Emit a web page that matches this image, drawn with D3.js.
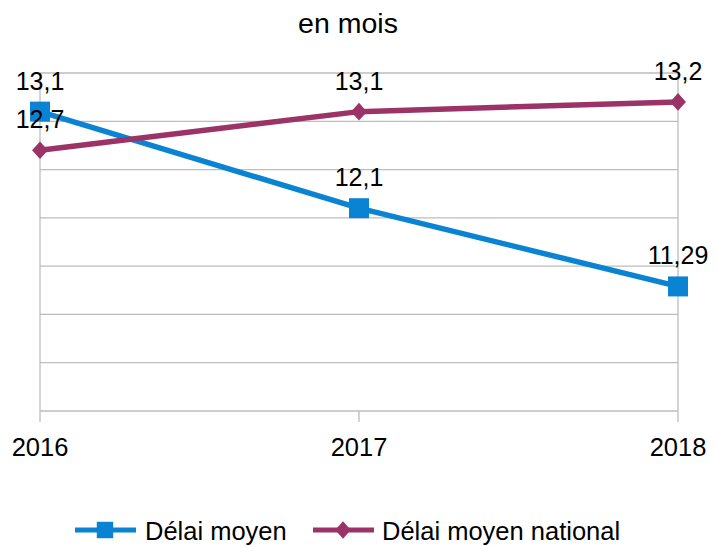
<!DOCTYPE html>
<html>
<head>
<meta charset="utf-8">
<script src="https://cdn.jsdelivr.net/npm/d3@7"></script>
<style>
  body { margin: 0; background: #fff; }
  text { font-family: "Liberation Sans", Arial, sans-serif; fill: #000; }
</style>
</head>
<body>
<script>
// data
let years = ["2016", "2017", "2018"];
let delaiMoyen = [13.1, 12.1, 11.29];
let delaiNational = [12.7, 13.1, 13.2];
let seriesNames = ["Délai moyen", "Délai moyen national"];
let seriesColors = ["#0a84d2", "#9b3366"];
let gridTicks = [10, 10.5, 11, 11.5, 12, 12.5, 13, 13.5];

let width = 716, height = 547;
let margin = {left: 40, right: 38, top: 73, bottom: 136};

let svg = d3.select("body").append("svg")
  .attr("width", width)
  .attr("height", height);

let x = d3.scalePoint()
  .domain(years)
  .range([margin.left, width - margin.right]);

let y = d3.scaleLinear()
  .domain([10, 13.5])
  .range([height - margin.bottom, margin.top]);

// title
svg.append("text")
  .attr("x", 348)
  .attr("y", 33)
  .attr("text-anchor", "middle")
  .style("font-size", "28.5px")
  .text("en mois");

// horizontal gridlines
svg.append("g").selectAll("line")
  .data(gridTicks)
  .enter().append("line")
  .attr("x1", margin.left)
  .attr("x2", width - margin.right)
  .attr("y1", d => y(d))
  .attr("y2", d => y(d))
  .attr("stroke", "#bdbdbd")
  .attr("stroke-width", 1.3);

// vertical lines at each category (left axis, 2017 tick, right border)
svg.append("g").selectAll("line")
  .data(years)
  .enter().append("line")
  .attr("x1", d => x(d))
  .attr("x2", d => x(d))
  .attr("y1", (d, i) => i == 1 ? y(10) : y(13.5))
  .attr("y2", y(10) + 11)
  .attr("stroke", "#bdbdbd")
  .attr("stroke-width", 1.3);

// x labels
svg.append("g").selectAll("text")
  .data(years)
  .enter().append("text")
  .attr("x", d => x(d))
  .attr("y", 456)
  .attr("text-anchor", "middle")
  .style("font-size", "25.5px")
  .text(d => d);

let line = d3.line()
  .x((d, i) => x(years[i]))
  .y(d => y(d));

let allSeries = [delaiMoyen, delaiNational];

// lines
allSeries.forEach(function(s, k) {
  svg.append("path")
    .datum(s)
    .attr("d", line)
    .attr("fill", "none")
    .attr("stroke", seriesColors[k])
    .attr("stroke-width", 5.5)
    .attr("stroke-linejoin", "round");
});

// markers
let squareSym = d3.symbol().type(d3.symbolSquare).size(400);
let diamondSym = d3.symbol().type(d3.symbolDiamond2).size(200);

svg.append("g").selectAll("path")
  .data(delaiMoyen)
  .enter().append("path")
  .attr("d", squareSym)
  .attr("transform", (d, i) => "translate(" + x(years[i]) + "," + y(d) + ")")
  .attr("fill", seriesColors[0]);

svg.append("g").selectAll("path")
  .data(delaiNational)
  .enter().append("path")
  .attr("d", diamondSym)
  .attr("transform", (d, i) => "translate(" + x(years[i]) + "," + y(d) + ") scale(0.9,1)")
  .attr("fill", seriesColors[1]);

// value labels
let fmt = v => String(v).replace(".", ",");
allSeries.forEach(function(s) {
  svg.append("g").selectAll("text")
    .data(s)
    .enter().append("text")
    .attr("x", (d, i) => x(years[i]))
    .attr("y", d => y(d) - 22)
    .attr("text-anchor", "middle")
    .style("font-size", "25px")
    .text(fmt);
});

// legend
let legendItems = [{x: 75, textX: 145}, {x: 313, textX: 382}];
legendItems.forEach(function(it, k) {
  let g = svg.append("g");
  g.append("line")
    .attr("x1", it.x).attr("x2", it.x + 61)
    .attr("y1", 530).attr("y2", 530)
    .attr("stroke", seriesColors[k])
    .attr("stroke-width", 5);
  g.append("path")
    .attr("d", k == 0 ? d3.symbol().type(d3.symbolSquare).size(270)() : d3.symbol().type(d3.symbolDiamond2).size(190)())
    .attr("transform", "translate(" + (it.x + 30) + ",530)" + (k == 1 ? " scale(0.9,1)" : ""))
    .attr("fill", seriesColors[k]);
  g.append("text")
    .attr("x", it.textX)
    .attr("y", 540)
    .style("font-size", "25.5px")
    .text(seriesNames[k]);
});
</script>
</body>
</html>
